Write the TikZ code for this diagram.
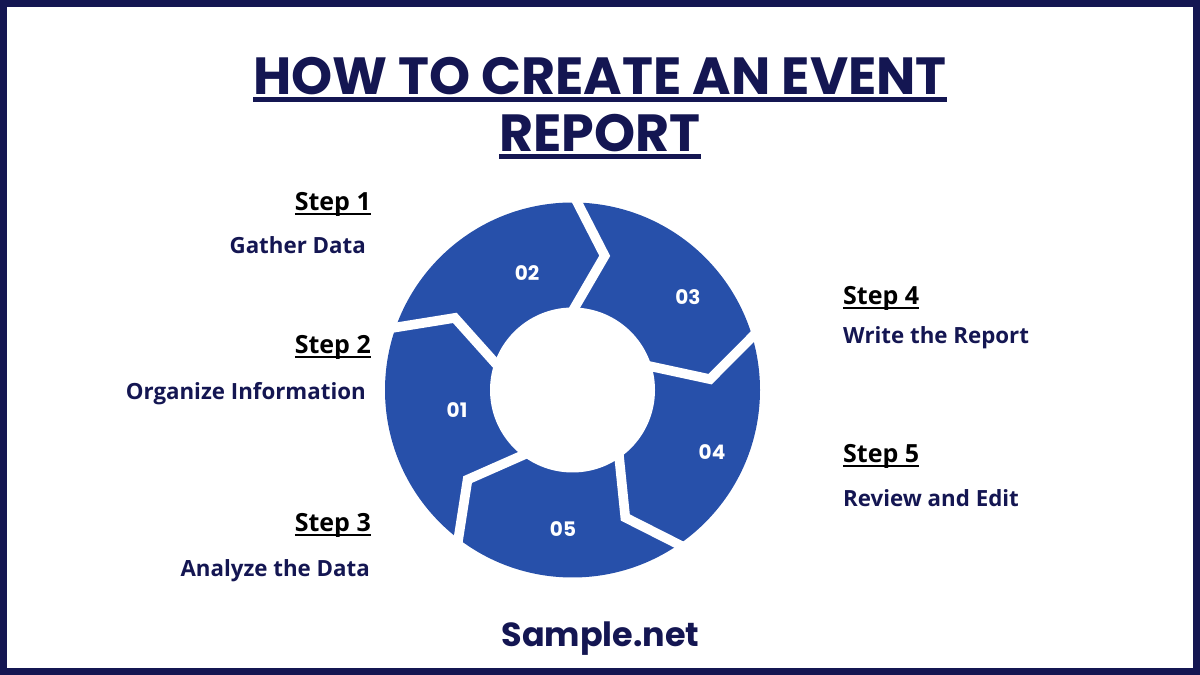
\documentclass[tikz,border=0pt]{standalone}
\usepackage{fontspec}
\usepackage{xcolor}
\usepackage{tikz}
\usetikzlibrary{calc}
\setmainfont{Open Sans}
\newfontfamily\popfont{Poppins}
\definecolor{navy}{RGB}{20,22,82}
\definecolor{ringblue}{RGB}{39,80,170}

% underline close to the baseline: #1 depth, #2 thickness, #3 text
\newcommand{\myul}[3]{\setbox0=\hbox{#3}\rlap{\rule[-#1]{\wd0}{#2}}\box0}

\begin{document}
\begin{tikzpicture}[x=1pt, y=1pt,
    steplbl/.style={font=\fontsize{25}{28}\selectfont\bfseries, text=black, inner sep=0},
    stepdesc/.style={font=\fontsize{22.3}{25}\selectfont\bfseries, text=navy, inner sep=0},
    numlbl/.style={font=\popfont\fontsize{20}{22}\selectfont\bfseries, text=white, inner sep=0}]

    \useasboundingbox (0,0) rectangle (1200,675);

    % Frame
    \draw[navy, line width=7pt] (3.5,3.5) rectangle (1196.5,671.5);

    % Title
    \node[font=\popfont\fontsize{52.3}{57}\selectfont\bfseries, text=navy, inner sep=0, anchor=base] (title) at (600,580)
        {\myul{7pt}{5pt}{HOW TO CREATE AN EVENT}};
    \node[font=\popfont\fontsize{52.3}{57}\selectfont\bfseries, text=navy, inner sep=0, anchor=base] (title2) at (600,523)
        {\myul{7pt}{5pt}{REPORT}};

    % Ring
    \coordinate (c) at (572.5,285);
    \fill[ringblue] (c) circle (187.5);
    \foreach \a in {160.5, 88.5, 16.5, -55.5, -127.5} {
        \coordinate (o) at ($(c)+(\a:187.5)$);
        \coordinate (t) at ($(c)+({\a-12}:138)$);
        \coordinate (i) at ($(c)+(\a:82.5)$);
        \draw[white, line width=9.6pt] ($(t)!1.2!(o)$) -- (t) -- ($(t)!1.3!(i)$);
    }
    \fill[white] (c) circle (82.5);

    % Numbers
    \node[numlbl] (n1) at (457,265) {01};
    \node[numlbl] (n2) at (527,402) {02};
    \node[numlbl] (n3) at (688,378) {03};
    \node[numlbl] (n4) at (712,223) {04};
    \node[numlbl] (n5) at (563,146) {05};

    % Steps - left side
    \node[steplbl, anchor=base east] (s1) at (371,464) {\myul{4.3pt}{2.4pt}{Step 1}};
    \node[stepdesc, anchor=base east] (d1) at (366,421) {Gather Data};
    \node[steplbl, anchor=base east] (s2) at (371,321) {\myul{4.3pt}{2.4pt}{Step 2}};
    \node[stepdesc, anchor=base east] (d2) at (366,275) {Organize Information};
    \node[steplbl, anchor=base east] (s3) at (371,143) {\myul{4.3pt}{2.4pt}{Step 3}};
    \node[stepdesc, anchor=base east] (d3) at (370,98) {Analyze the Data};

    % Steps - right side
    \node[steplbl, anchor=base west] (s4) at (843,370) {\myul{4.3pt}{2.4pt}{Step 4}};
    \node[stepdesc, anchor=base west] (d4) at (843,331) {Write the Report};
    \node[steplbl, anchor=base west] (s5) at (843,212) {\myul{4.3pt}{2.4pt}{Step 5}};
    \node[stepdesc, anchor=base west] (d5) at (843,168) {Review and Edit};

    % Footer
    \node[font=\popfont\fontsize{33.4}{36}\selectfont\bfseries, text=navy, inner sep=0, anchor=base] (brand) at (600.5,28) {Sample.net};
\end{tikzpicture}
\end{document}
